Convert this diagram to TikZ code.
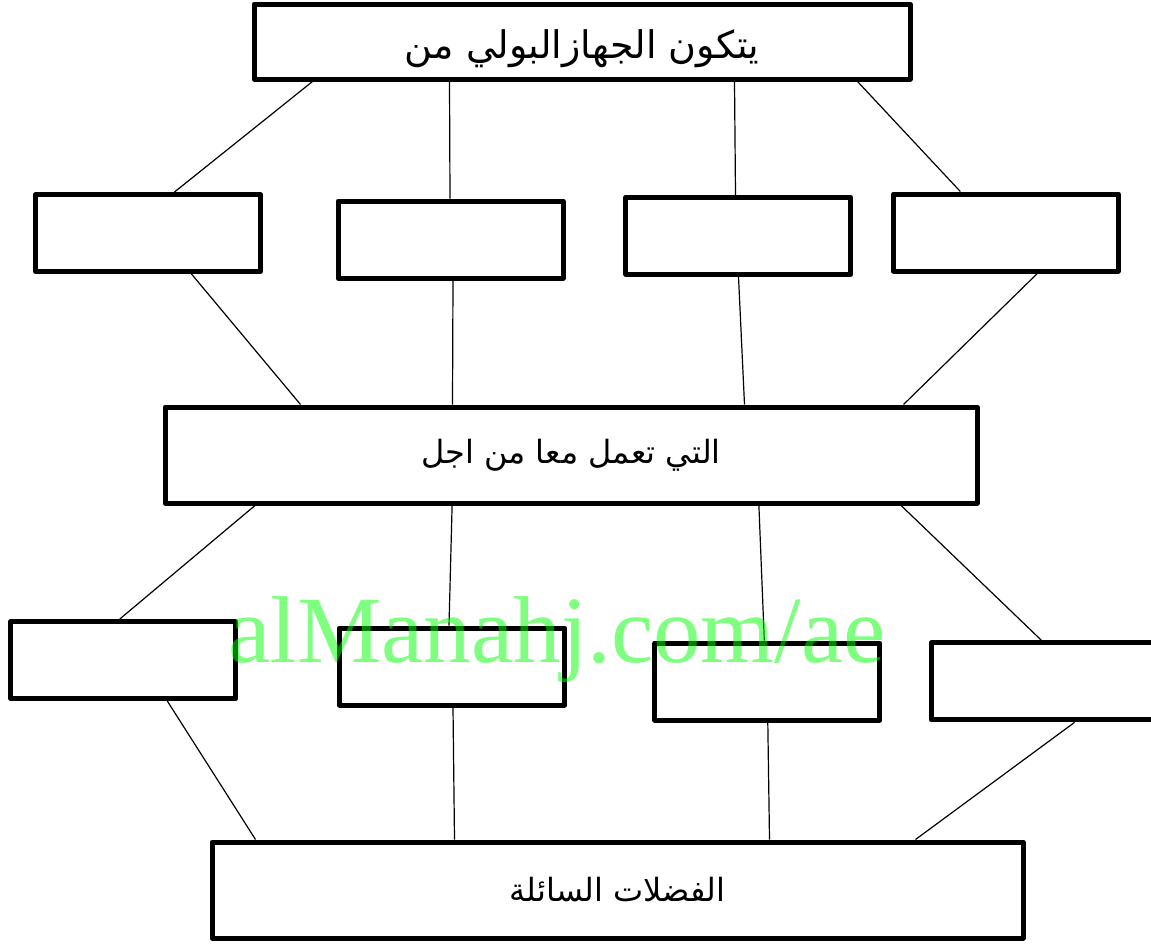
\documentclass[tikz,border=0pt]{standalone}
\usepackage{fontspec}
\setmainfont{Liberation Serif}
\newfontfamily\arabicfont[Script=Arabic]{DejaVu Sans}
\TeXXeTstate=1
\usetikzlibrary{positioning}
\tikzset
{
    box/.style    = {rectangle, draw=black, line width=5pt, line join=round, minimum width=225pt, minimum height=77pt, inner sep=0pt},
    bigbox/.style = {rectangle, draw=black, line width=5pt, line join=round, inner sep=0pt, align=center, font=\arabicfont},
    link/.style   = {line width=1.2pt},
    stamp/.style  = {text=green, text opacity=0.5, font=\fontsize{95}{95}\selectfont, inner sep=0pt, anchor=base}
}

\begin{document}
\begin{tikzpicture}[x=1pt, y=-1pt]
\useasboundingbox (0,0) rectangle (1151,945);
\node(top) [bigbox, minimum width=656pt, minimum height=75pt, text height=33pt, text depth=0pt] at (582,41.5) {\fontsize{38}{44}\selectfont\beginR يتكون الجهازالبولي من\endR};
\node(ra) [box] at (148,233) {};
\node(rb) [box] at (450.5,239.5) {};
\node(rc) [box] at (738.3,235.8) {};
\node(rd) [box] at (1005.8,232.5) {};
\node(mid) [bigbox, minimum width=812pt, minimum height=96pt] at (571,455) {\fontsize{32}{38}\selectfont\beginR التي تعمل معا من اجل\endR};
\node(sa) [box] at (123.3,660) {};
\node(sb) [box] at (452,666.5) {};
\node(sc) [box] at (767.3,681.5) {};
\node(sd) [box] at (1043.5,681.4) {};
\node(bot) [bigbox, minimum width=811pt, minimum height=96pt] at (617.5,890) {\fontsize{32}{38}\selectfont\beginR الفضلات السائلة\endR};
% top box to first row
\draw[link] ([xshift=61pt]top.south west) -- ([xshift=141.5pt]ra.north west);
\draw[link] ([xshift=198pt]top.south west) -- ([xshift=114.5pt]rb.north west);
\draw[link] ([xshift=483pt]top.south west) -- ([xshift=112.2pt]rc.north west);
\draw[link] ([xshift=606pt]top.south west) -- ([xshift=69.5pt]rd.north west);
% first row to middle box
\draw[link] ([xshift=158.5pt]ra.south west) -- ([xshift=138pt]mid.north west);
\draw[link] ([xshift=117.5pt]rb.south west) -- ([xshift=290pt]mid.north west);
\draw[link] ([xshift=115.2pt]rc.south west) -- ([xshift=582pt]mid.north west);
\draw[link] ([xshift=146.5pt]rd.south west) -- ([xshift=741pt]mid.north west);
% middle box to second row
\draw[link] ([xshift=92.5pt]mid.south west) -- ([xshift=111.5pt]sa.north west);
\draw[link] ([xshift=289.6pt]mid.south west) -- ([xshift=112pt]sb.north west);
\draw[link] ([xshift=596.4pt]mid.south west) -- ([xshift=112pt]sc.north west);
\draw[link] ([xshift=738.6pt]mid.south west) -- ([xshift=113pt]sd.north west);
% second row to bottom box
\draw[link] ([xshift=159pt]sa.south west) -- ([xshift=46pt]bot.north west);
\draw[link] ([xshift=116pt]sb.south west) -- ([xshift=245pt]bot.north west);
\draw[link] ([xshift=115.5pt]sc.south west) -- ([xshift=560pt]bot.north west);
\draw[link] ([xshift=146pt]sd.south west) -- ([xshift=706pt]bot.north west);
\node(wm) [stamp] at (557,662) {alManahj.com/ae};
\end{tikzpicture}
\end{document}
